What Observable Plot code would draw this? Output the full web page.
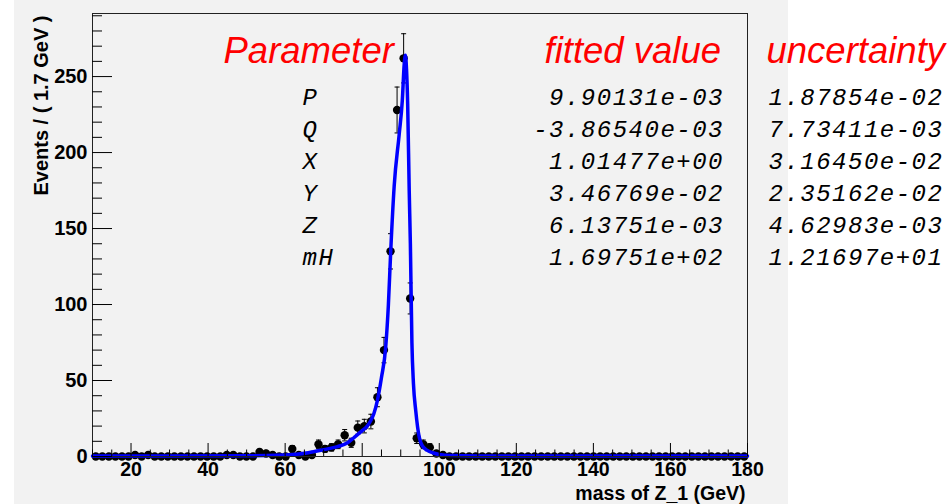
<!DOCTYPE html>
<html>
<head>
<meta charset="utf-8">
<script src="https://cdn.jsdelivr.net/npm/d3@7"></script>
<script src="https://cdn.jsdelivr.net/npm/@observablehq/plot@0.6"></script>
<style>
html, body { margin: 0; padding: 0; background: #ffffff; }
#wrap { position: relative; width: 951px; height: 504px; overflow: hidden; }
#bg { position: absolute; left: 14px; top: 0; width: 774px; height: 504px; background: #f2f2f2; }
#chart { position: absolute; left: 0; top: 0; }
</style>
</head>
<body>
<div id="wrap"><div id="bg"></div><div id="chart"></div></div>
<script>
// ---- data ----
const massMin = 10;
const binWidth = 1.7;
// events per 1.7 GeV bin, 100 bins from 10 to 180 GeV
const counts = [
  0, 0, 0, 0, 0, 0, 1, 0, 1, 0,
  0, 0, 0, 0, 0, 0, 0, 0, 0, 0,
  1, 1, 0, 0, 0, 3, 2, 1, 0, 0,
  5, 1, 0, 1, 8, 5, 6, 8, 14, 9,
  19, 20, 23, 39, 70, 135, 228, 262, 104, 12,
  8, 6, 2, 1, 0, 0, 0, 0, 0, 0,
  0, 0, 0, 0, 0, 0, 0, 0, 0, 0,
  0, 0, 0, 0, 0, 0, 0, 0, 0, 0,
  0, 0, 0, 0, 0, 0, 0, 0, 0, 0,
  0, 0, 0, 0, 0, 0, 0, 0, 0, 0
];
// fitted pdf curve
const curveMass  = [10, 30, 50, 55, 60, 63, 66, 70, 73.6, 76.2, 77.9, 80, 81.3, 82.2, 83, 83.95, 85, 86.1, 86.8, 87.4, 88.3, 89.6, 90.4, 90.9, 91.2, 91.5, 91.8, 92.2, 92.5, 92.9, 93.3, 93.9, 94.8, 95.5, 96.9, 98.5, 100, 103, 110, 140, 180];
const curveValue = [0.3, 0.35, 0.5, 0.6, 1.0, 1.5, 2.5, 4.5, 6.5, 9, 12.5, 17, 20, 23.5, 28, 37, 52, 72, 100, 135, 178, 212, 234, 258, 264, 255, 232, 175, 140, 75, 48, 30, 12.7, 7.5, 4, 2.3, 1.3, 0.6, 0.4, 0.3, 0.3];

const xMajorTicks = [20, 40, 60, 80, 100, 120, 140, 160, 180];
const xMinorTicks = [10, 15, 25, 30, 35, 45, 50, 55, 65, 70, 75, 85, 90, 95, 105, 110, 115, 125, 130, 135, 145, 150, 155, 165, 170, 175];
const yMajorTicks = [0, 50, 100, 150, 200, 250];
const yMinorTicks = [10, 20, 30, 40, 60, 70, 80, 90, 110, 120, 130, 140, 160, 170, 180, 190, 210, 220, 230, 240, 260, 270, 280, 290];

const xTitle = "mass of Z_1 (GeV)";
const yTitle = "Events / ( 1.7 GeV )";

const headerLabels = ["Parameter", "fitted value", "uncertainty"];
const paramNames = ["P", "Q", "X", "Y", "Z", "mH"];
const fittedValues = ["9.90131e-03", "-3.86540e-03", "1.01477e+00", "3.46769e-02", "6.13751e-03", "1.69751e+02"];
const uncertainties = ["1.87854e-02", "7.73411e-03", "3.16450e-02", "2.35162e-02", "4.62983e-03", "1.21697e+01"];

// ---- derived tables ----
const bins = counts.map((n, i) => {
  const e = n > 0 ? Math.sqrt(n) : 1.15;
  return {mass: massMin + binWidth * (i + 0.5), count: n, lo: Math.max(0, n - (n > 0 ? e : 0)), hi: n + e};
});
const caps = bins.filter(d => d.count > 0).flatMap(d => [{mass: d.mass, v: d.lo}, {mass: d.mass, v: d.hi}]);
const curve = curveMass.map((m, i) => ({mass: m, value: curveValue[i]}));

const capSymbol = {draw(ctx, size) { const w = Math.sqrt(size / Math.PI); ctx.moveTo(-w, 0); ctx.lineTo(w, 0); }};

const sans = "'Liberation Sans', Arial, Helvetica, sans-serif";
const mono = "'Liberation Mono', 'DejaVu Sans Mono', monospace";
const lblSize = 20;
const xLblSize = 19.5;
const tblSize = 24;
const tblSpacing = "1.5px";

const chart = Plot.plot({
  width: 951,
  height: 504,
  marginLeft: 92,
  marginRight: 204,
  marginTop: 13,
  marginBottom: 48,
  style: {background: "transparent", fontFamily: sans, color: "black", overflow: "visible"},
  x: {domain: [10, 180]},
  y: {domain: [0, 291.5]},
  marks: [
    Plot.ruleX(bins, {x: "mass", y1: "lo", y2: "hi", stroke: "black", strokeWidth: 1}),
    Plot.dot(caps, {x: "mass", y: "v", r: 2.5, symbol: capSymbol, stroke: "black", fill: "none", strokeWidth: 1}),
    Plot.dot(bins, {x: "mass", y: "count", r: 4.2, fill: "black", stroke: "none"}),
    Plot.line(curve, {x: "mass", y: "value", stroke: "#0000ff", strokeWidth: 3.5, curve: "monotone-x"}),
    Plot.frame({stroke: "#222"}),
    Plot.axisX({ticks: xMajorTicks, tickSize: -13, tickPadding: 19, label: null, tickFormat: d => String(d), fontSize: xLblSize, fontWeight: "bold", fontFamily: sans}),
    Plot.axisX({ticks: xMinorTicks, tickSize: -6.5, label: null, tickFormat: () => ""}),
    Plot.axisY({ticks: yMajorTicks, tickSize: -20, tickPadding: 25, label: null, tickFormat: d => String(d), fontSize: lblSize, fontWeight: "bold", fontFamily: sans}),
    Plot.axisY({ticks: yMinorTicks, tickSize: -10, label: null, tickFormat: () => ""}),
    Plot.text([yTitle], {text: d => d, frameAnchor: "top-left", rotate: -90, textAnchor: "end", lineAnchor: "middle", dx: -51, dy: 2, fontSize: lblSize, fontWeight: "bold", fontFamily: sans, fill: "black"}),
    Plot.text([xTitle], {text: d => d, frameAnchor: "bottom-right", textAnchor: "end", lineAnchor: "top", dx: -2, dy: 29.5, fontSize: xLblSize, fontWeight: "bold", fontFamily: sans, fill: "black"}),
    Plot.text([headerLabels[0]], {text: d => d, frameAnchor: "top-left", textAnchor: "start", lineAnchor: "top", dx: 131, dy: 23.4, fontSize: 36.5, fontStyle: "italic", fontFamily: sans, fill: "#ff0000"}),
    Plot.text([headerLabels[1]], {text: d => d, frameAnchor: "top-left", textAnchor: "start", lineAnchor: "top", dx: 452, dy: 23.4, fontSize: 36.5, fontStyle: "italic", fontFamily: sans, fill: "#ff0000"}),
    Plot.text([headerLabels[2]], {text: d => d, frameAnchor: "top-left", textAnchor: "start", lineAnchor: "top", dx: 674, dy: 23.4, fontSize: 36.5, fontStyle: "italic", fontFamily: sans, fill: "#ff0000"}),
    Plot.text([paramNames.join("\n")], {text: d => d, ariaLabel: "fit table", frameAnchor: "top-left", textAnchor: "start", lineAnchor: "top", lineHeight: 32 / tblSize, dx: 210, dy: 69, fontSize: tblSize, fontStyle: "italic", fontFamily: mono, fill: "black"}),
    Plot.text([fittedValues.join("\n")], {text: d => d, ariaLabel: "fit table", frameAnchor: "top-left", textAnchor: "end", lineAnchor: "top", lineHeight: 32 / tblSize, dx: 631.5, dy: 69, fontSize: tblSize, fontStyle: "italic", fontFamily: mono, fill: "black"}),
    Plot.text([uncertainties.join("\n")], {text: d => d, ariaLabel: "fit table", frameAnchor: "top-left", textAnchor: "start", lineAnchor: "top", lineHeight: 32 / tblSize, dx: 676, dy: 69, fontSize: tblSize, fontStyle: "italic", fontFamily: mono, fill: "black"})
  ]
});
d3.select(chart).selectAll("[aria-label='fit table']").style("letter-spacing", tblSpacing);
d3.select(chart).selectAll("g").filter(function() { return (this.getAttribute("font-family") || "").includes("Mono"); }).style("letter-spacing", tblSpacing);
document.getElementById("chart").appendChild(chart);
</script>
</body>
</html>
